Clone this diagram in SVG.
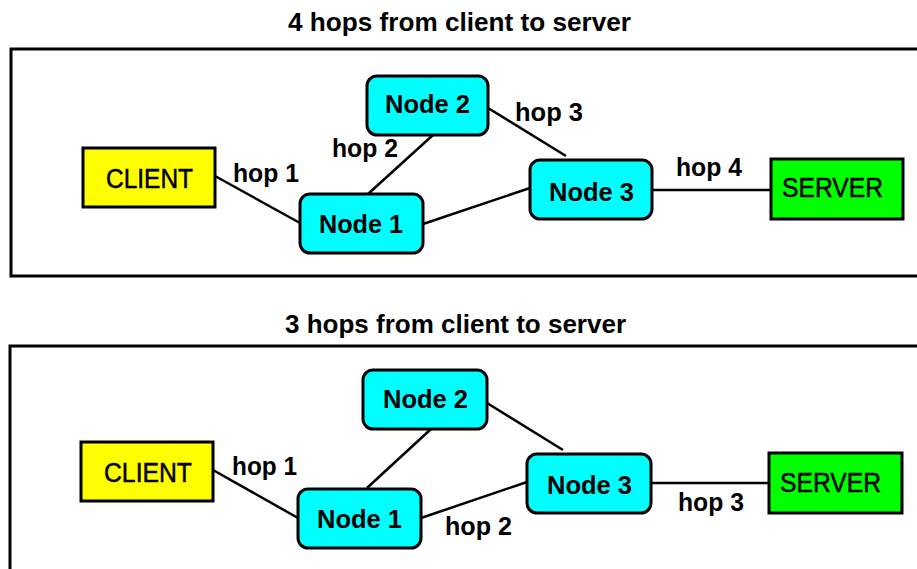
<svg xmlns="http://www.w3.org/2000/svg" width="917" height="569" viewBox="0 0 917 569">
<style>
text{font-family:"Liberation Sans",Arial,sans-serif;fill:#000}
.title{font-size:26px;font-weight:bold}
.lbl{font-size:25px;font-weight:bold}
.nt{font-size:25px;font-weight:bold}
.bt{font-size:27px;stroke:#000;stroke-width:0.5}
.frame{fill:none;stroke:#000;stroke-width:3}
.node{fill:#00FFFF;stroke:#000;stroke-width:3}
.client{fill:#FFFF00;stroke:#000;stroke-width:3}
.server{fill:#00FF00;stroke:#000;stroke-width:3}
.conn line{stroke:#000;stroke-width:2.5}
</style>
<rect width="917" height="569" fill="#fff"/>

<!-- Top panel -->
<g id="panel-top">
<text class="title" x="288" y="31" textLength="343" lengthAdjust="spacingAndGlyphs">4 hops from client to server</text>
<rect class="frame" x="11" y="49" width="930" height="227"/>
</g>
<g id="connectors-top" class="conn">
<line x1="215" y1="176" x2="300" y2="223"/>
<line x1="368" y1="194" x2="433" y2="135"/>
<line x1="423" y1="224" x2="530" y2="188"/>
<line x1="488" y1="108" x2="566" y2="156"/>
<line x1="652" y1="190" x2="771" y2="190"/>
<text class="lbl" x="233" y="182" textLength="66" lengthAdjust="spacingAndGlyphs">hop 1</text>
<text class="lbl" x="332" y="157" textLength="66" lengthAdjust="spacingAndGlyphs">hop 2</text>
<text class="lbl" x="515" y="121" textLength="68" lengthAdjust="spacingAndGlyphs">hop 3</text>
<text class="lbl" x="676" y="176" textLength="66" lengthAdjust="spacingAndGlyphs">hop 4</text>
</g>
<g id="client-top">
<rect class="client" x="83" y="148" width="132" height="59"/>
<text class="bt" x="106" y="188" textLength="87" lengthAdjust="spacingAndGlyphs">CLIENT</text>
</g>
<g id="node1-top">
<rect class="node" x="300" y="194" width="123" height="59" rx="10"/>
<text class="nt" x="319" y="233" textLength="84" lengthAdjust="spacingAndGlyphs">Node 1</text>
</g>
<g id="node2-top">
<rect class="node" x="367" y="76" width="121" height="59" rx="10"/>
<text class="nt" x="385" y="113" textLength="85" lengthAdjust="spacingAndGlyphs">Node 2</text>
</g>
<g id="node3-top">
<rect class="node" x="530" y="160" width="122" height="59" rx="10"/>
<text class="nt" x="549" y="201" textLength="85" lengthAdjust="spacingAndGlyphs">Node 3</text>
</g>
<g id="server-top">
<rect class="server" x="771" y="159" width="132" height="60"/>
<text class="bt" x="782" y="197" textLength="101" lengthAdjust="spacingAndGlyphs">SERVER</text>
</g>

<!-- Bottom panel -->
<g id="panel-bottom">
<text class="title" x="285" y="333" textLength="341" lengthAdjust="spacingAndGlyphs">3 hops from client to server</text>
<rect class="frame" x="10" y="346" width="930" height="260"/>
</g>
<g id="connectors-bottom" class="conn">
<line x1="213" y1="470" x2="298" y2="518"/>
<line x1="367" y1="488" x2="431" y2="429"/>
<line x1="421" y1="518" x2="527" y2="482"/>
<line x1="487" y1="403" x2="563" y2="450"/>
<line x1="651" y1="483" x2="769" y2="483"/>
<text class="lbl" x="232" y="475" textLength="65" lengthAdjust="spacingAndGlyphs">hop 1</text>
<text class="lbl" x="445" y="535" textLength="67" lengthAdjust="spacingAndGlyphs">hop 2</text>
<text class="lbl" x="678" y="511" textLength="66" lengthAdjust="spacingAndGlyphs">hop 3</text>
</g>
<g id="client-bottom">
<rect class="client" x="81" y="442" width="132" height="59"/>
<text class="bt" x="104" y="482" textLength="88" lengthAdjust="spacingAndGlyphs">CLIENT</text>
</g>
<g id="node1-bottom">
<rect class="node" x="298" y="489" width="123" height="59" rx="10"/>
<text class="nt" x="317" y="528" textLength="85" lengthAdjust="spacingAndGlyphs">Node 1</text>
</g>
<g id="node2-bottom">
<rect class="node" x="363" y="370" width="124" height="59" rx="10"/>
<text class="nt" x="383" y="408" textLength="85" lengthAdjust="spacingAndGlyphs">Node 2</text>
</g>
<g id="node3-bottom">
<rect class="node" x="527" y="454" width="124" height="59" rx="10"/>
<text class="nt" x="547" y="494" textLength="85" lengthAdjust="spacingAndGlyphs">Node 3</text>
</g>
<g id="server-bottom">
<rect class="server" x="769" y="453" width="133" height="60"/>
<text class="bt" x="780" y="492" textLength="101" lengthAdjust="spacingAndGlyphs">SERVER</text>
</g>
</svg>
